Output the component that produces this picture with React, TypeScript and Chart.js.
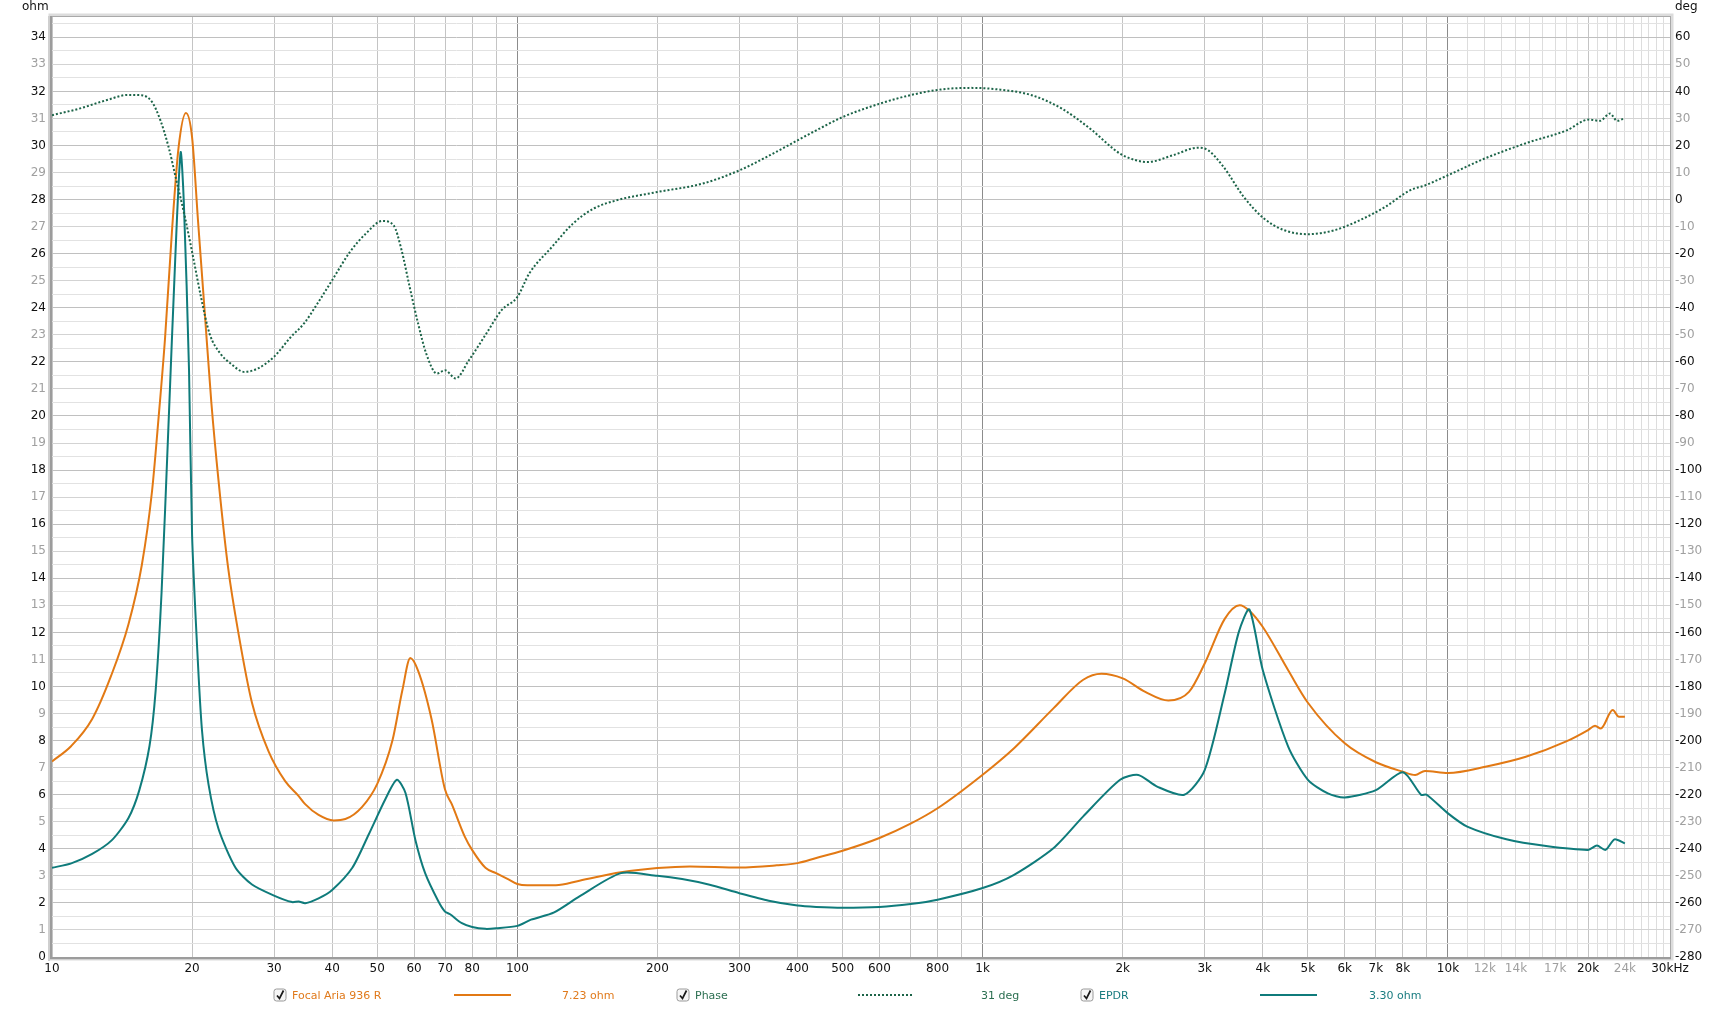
import React, { useEffect, useRef } from 'react';
import { Chart, registerables } from 'chart.js';

Chart.register(...registerables);

// ---------------- data ----------------
const impFreq = [10, 11, 12.2, 13.4, 14.6, 15.6, 16.4, 16.9, 17.5, 18.1, 18.7, 19.4, 20.0, 20.6, 21.3, 22.0, 22.8, 23.9, 25.2, 26.9, 29.2, 31.7, 33.9, 35.0, 37.4, 40.3, 42.7, 46.4, 50.0, 53.9, 56.6, 58.9, 61.3, 65.4, 69.9, 72.3, 77.1, 80, 85.4, 90, 95, 100, 105, 121, 136, 167, 200, 235, 300, 361, 400, 439, 500, 600, 700, 800, 1000, 1168, 1421, 1645, 1800, 2000, 2236, 2506, 2776, 3000, 3313, 3569, 3742, 4000, 4535, 5000, 6000, 7000, 8000, 8500, 8925, 10000, 12100, 14700, 17900, 20000, 20700, 21300, 22600, 23300, 24000];
const impOhm = [7.23, 7.8, 8.8, 10.4, 12.3, 14.5, 17.2, 19.7, 22.9, 26.8, 29.9, 31.2, 30.3, 27.2, 23.8, 20.5, 17.6, 14.4, 11.9, 9.4, 7.6, 6.5, 5.95, 5.65, 5.25, 5.05, 5.1, 5.55, 6.4, 8.0, 9.85, 11.05, 10.55, 8.8, 6.2, 5.65, 4.45, 3.95, 3.3, 3.1, 2.9, 2.7, 2.65, 2.65, 2.82, 3.13, 3.29, 3.35, 3.31, 3.39, 3.47, 3.66, 3.93, 4.4, 4.93, 5.5, 6.74, 7.72, 9.2, 10.25, 10.47, 10.3, 9.8, 9.48, 9.8, 10.85, 12.5, 13.0, 12.8, 12.2, 10.6, 9.4, 7.9, 7.2, 6.85, 6.73, 6.88, 6.8, 7.04, 7.4, 7.96, 8.39, 8.55, 8.45, 9.13, 8.88, 8.88];

const epdrFreq = [10, 11, 12.2, 13.45, 14.6, 15.4, 16.2, 16.7, 17.2, 17.8, 18.4, 18.9, 19.2, 19.7, 20.0, 20.5, 21.0, 21.7, 22.8, 24.8, 26.9, 30.0, 32.8, 33.9, 35.0, 37.4, 40.0, 44.2, 47.9, 52.1, 55.1, 57.5, 60.4, 63.4, 67.6, 69.9, 71.7, 76.0, 80.0, 85.4, 90.0, 100, 107, 120, 136, 167, 200, 226, 259, 300, 347, 400, 439, 500, 600, 700, 800, 1000, 1168, 1421, 1645, 1974, 2160, 2371, 2712, 3000, 3313, 3550, 3742, 4000, 4535, 5000, 5520, 6000, 7000, 8000, 8750, 9000, 10000, 11000, 13350, 16250, 20000, 20900, 21800, 22800, 24000];
const epdrOhm = [3.3, 3.46, 3.81, 4.32, 5.14, 6.16, 7.8, 9.85, 13.5, 19.7, 25.8, 29.75, 27.9, 21.7, 15.6, 11.5, 8.4, 6.37, 4.73, 3.3, 2.68, 2.27, 2.03, 2.05, 1.99, 2.17, 2.48, 3.3, 4.52, 5.85, 6.55, 6.06, 4.32, 3.09, 2.07, 1.68, 1.58, 1.25, 1.11, 1.04, 1.06, 1.15, 1.38, 1.65, 2.24, 3.1, 3.0, 2.88, 2.67, 2.36, 2.08, 1.9, 1.85, 1.82, 1.85, 1.96, 2.12, 2.55, 3.04, 4.03, 5.2, 6.55, 6.73, 6.3, 6.0, 6.91, 9.75, 12.0, 12.85, 10.6, 7.78, 6.55, 6.05, 5.9, 6.17, 6.83, 6.0, 6.0, 5.31, 4.82, 4.35, 4.1, 3.96, 4.12, 3.96, 4.35, 4.2];

const phaseFreq = [10, 11.43, 13.07, 14.56, 15.56, 16.4, 17.1, 17.8, 18.5, 19.3, 20.1, 20.9, 21.8, 23.0, 24.2, 25.9, 27.7, 30.0, 32.6, 34.8, 37.2, 40.0, 43.7, 47.3, 51.3, 54.2, 56.4, 58.7, 61.2, 63.7, 67.2, 69.9, 73.7, 78.7, 85.8, 92.5, 100, 106.1, 118.7, 131.8, 146, 164, 200, 250, 300, 349, 400, 439, 500, 602, 699, 812, 943, 1069, 1274, 1480, 1719, 1905, 2000, 2264, 2565, 2905, 3054, 3293, 3640, 4024, 4444, 5000, 5706, 6468, 7330, 8305, 8940, 10000, 12000, 14800, 18000, 20100, 21200, 22300, 23100, 23900];
const phaseDeg = [31.2, 33.6, 36.7, 38.7, 38.6, 36.1, 29.3, 19.5, 7.2, -6.4, -21.2, -36, -49.5, -56.9, -60.6, -63.7, -62.4, -58.1, -50.8, -45.8, -38.4, -29.8, -19.3, -12.5, -7.9, -9.5, -18.7, -32.3, -45.8, -56.9, -64.3, -63.1, -66.1, -59.4, -49.5, -40.9, -36, -27.3, -17.5, -8.8, -3.3, -0.2, 2.8, 5.9, 10.8, 16.4, 21.9, 25.6, 30.5, 35.5, 38.6, 40.7, 41.3, 40.8, 38.6, 33.6, 25.6, 18.9, 16.4, 13.9, 16.4, 19.2, 18.2, 12.1, 1.0, -7, -11.3, -12.8, -11.3, -7.6, -2.7, 3.5, 5.3, 9.0, 15.2, 21, 25.6, 29.6, 29.1, 31.8, 29.1, 30];

// ---------------- axes ----------------
const xGridValues = [10, 20, 30, 40, 50, 60, 70, 80, 90, 100, 200, 300, 400, 500, 600, 700, 800, 900, 1000, 2000, 3000, 4000, 5000, 6000, 7000, 8000, 9000, 10000, 11000, 12000, 13000, 14000, 15000, 16000, 17000, 18000, 19000, 20000, 21000, 22000, 23000, 24000, 25000, 26000, 27000, 28000, 29000, 30000];
const xTickLabels: Record<number, string> = {
  10: '10', 20: '20', 30: '30', 40: '40', 50: '50', 60: '60', 70: '70', 80: '80', 100: '100',
  200: '200', 300: '300', 400: '400', 500: '500', 600: '600', 800: '800', 1000: '1k',
  2000: '2k', 3000: '3k', 4000: '4k', 5000: '5k', 6000: '6k', 7000: '7k', 8000: '8k', 10000: '10k',
  12000: '12k', 14000: '14k', 17000: '17k', 20000: '20k', 24000: '24k', 30000: '30kHz',
};
const xGrayLabels = [12000, 14000, 17000, 24000];
const xDarkLines = [100, 1000, 10000];

const ohmMin = 0;
const ohmMax = 34.75;
const ohmTicks = Array.from({ length: 70 }, (_, i) => i * 0.5);
const degMin = -280;
const degMax = 67.5;
const degTicks = Array.from({ length: 35 }, (_, i) => -280 + i * 10);

const legendItems = [
  { box: 274, name: 'Focal Aria 936 R', nameX: 292, lineX: [454, 511], dash: [] as number[], value: '7.23 ohm', valueX: 562, color: '#e27914', textColor: '#e07a1c' },
  { box: 677, name: 'Phase', nameX: 695, lineX: [858, 913], dash: [2, 2], value: '31 deg', valueX: 981, color: '#1c6448', textColor: '#2a6e50' },
  { box: 1081, name: 'EPDR', nameX: 1099, lineX: [1260, 1317], dash: [] as number[], value: '3.30 ohm', valueX: 1369, color: '#0f7b7b', textColor: '#1a7c80' },
];

const FONT = 'DejaVu Sans';
const C_IMP = '#e27914';
const C_EPDR = '#0f7b7b';
const C_PHASE = '#1c6448';

const toPts = (xs: number[], ys: number[]) => xs.map((x, i) => ({ x, y: ys[i] }));

const framePlugin = {
  id: 'frame',
  afterDraw(chart: any) {
    const { ctx, chartArea } = chart;
    const { left, right, top, bottom } = chartArea;
    ctx.save();
    // soft outer band
    ctx.strokeStyle = '#dcdcdc';
    ctx.lineWidth = 3;
    ctx.strokeRect(left - 2, top - 2, right - left + 4, bottom - top + 4);
    ctx.strokeStyle = '#a9a9a9';
    ctx.lineWidth = 1;
    ctx.strokeRect(left - 0.5, top - 0.5, right - left + 1, bottom - top + 1);
    // darker left & bottom edge
    ctx.fillStyle = '#9c9c9c';
    ctx.fillRect(left - 2, top - 1, 2, bottom - top + 3);
    ctx.fillRect(left - 2, bottom, right - left + 3, 2);
    ctx.fillStyle = '#cfcfcf';
    ctx.fillRect(left - 4, top - 1, 2, bottom - top + 5);
    ctx.fillRect(left - 2, bottom + 2, right - left + 3, 1);

    // axis units
    ctx.font = `12px "${FONT}"`;
    ctx.fillStyle = '#111';
    ctx.textBaseline = 'middle';
    ctx.textAlign = 'left';
    ctx.fillText('ohm', 22, 7);
    ctx.fillText('deg', 1675, 7);

    // legend
    const ly = 995;
    ctx.font = `11px "${FONT}"`;
    for (const it of legendItems) {
      // checkbox
      const bx = it.box, by = ly - 6, bs = 12;
      ctx.beginPath();
      const r = 2.5;
      ctx.moveTo(bx + r, by);
      ctx.lineTo(bx + bs - r, by);
      ctx.quadraticCurveTo(bx + bs, by, bx + bs, by + r);
      ctx.lineTo(bx + bs, by + bs - r);
      ctx.quadraticCurveTo(bx + bs, by + bs, bx + bs - r, by + bs);
      ctx.lineTo(bx + r, by + bs);
      ctx.quadraticCurveTo(bx, by + bs, bx, by + bs - r);
      ctx.lineTo(bx, by + r);
      ctx.quadraticCurveTo(bx, by, bx + r, by);
      ctx.fillStyle = '#f6f6f6';
      ctx.fill();
      ctx.strokeStyle = '#9a9a9a';
      ctx.lineWidth = 1;
      ctx.stroke();
      ctx.beginPath();
      ctx.moveTo(bx + 3, by + 6.5);
      ctx.lineTo(bx + 5.5, by + 9.5);
      ctx.lineTo(bx + 9.5, by + 1.5);
      ctx.strokeStyle = '#1a1a1a';
      ctx.lineWidth = 1.7;
      ctx.stroke();
      // name
      ctx.fillStyle = it.textColor;
      ctx.textAlign = 'left';
      ctx.fillText(it.name, it.nameX, ly + 1);
      // line sample
      ctx.beginPath();
      ctx.setLineDash(it.dash);
      ctx.moveTo(it.lineX[0], ly);
      ctx.lineTo(it.lineX[1], ly);
      ctx.strokeStyle = it.color;
      ctx.lineWidth = 2;
      ctx.stroke();
      ctx.setLineDash([]);
      // value
      ctx.fillStyle = it.textColor;
      ctx.fillText(it.value, it.valueX, ly + 1);
    }
    ctx.restore();
  },
};

export default function App() {
  const ref = useRef<HTMLCanvasElement | null>(null);

  useEffect(() => {
    document.body.style.margin = '0';
    document.body.style.background = '#ffffff';
    const canvas = ref.current;
    if (!canvas) return;
    Chart.defaults.font.family = FONT;

    const chart = new Chart(canvas, {
      type: 'line',
      data: {
        datasets: [
          {
            label: 'Focal Aria 936 R',
            data: toPts(impFreq, impOhm),
            borderColor: C_IMP,
            borderWidth: 2,
            pointRadius: 0,
            cubicInterpolationMode: 'monotone',
            yAxisID: 'y',
            order: 3,
          },
          {
            label: 'EPDR',
            data: toPts(epdrFreq, epdrOhm),
            borderColor: C_EPDR,
            borderWidth: 2,
            pointRadius: 0,
            tension: 0.25,
            yAxisID: 'y',
            order: 2,
          },
          {
            label: 'Phase',
            data: toPts(phaseFreq, phaseDeg),
            borderColor: C_PHASE,
            borderWidth: 2,
            borderDash: [2, 2],
            borderCapStyle: 'butt',
            pointRadius: 0,
            cubicInterpolationMode: 'monotone',
            yAxisID: 'y2',
            order: 1,
          },
        ],
      },
      options: {
        responsive: false,
        animation: false,
        events: [],
        layout: { padding: { top: 17, left: 0, right: 0, bottom: 0 } },
        plugins: { legend: { display: false }, tooltip: { enabled: false }, title: { display: false } },
        scales: {
          x: {
            type: 'logarithmic',
            min: 10,
            max: 30000,
            afterBuildTicks: (s: any) => {
              s.ticks = xGridValues.map((v) => ({ value: v }));
            },
            afterFit: (s: any) => {
              s.height = 54;
            },
            border: { display: false },
            grid: {
              drawTicks: false,
              lineWidth: 1,
              color: (c: any) => {
                const v = Math.round(c.tick?.value ?? 0);
                if (xDarkLines.includes(v)) return '#8c8c8c';
                if (v > 10000 && v !== 20000 && v !== 30000) return '#dddddd';
                return '#c4c4c4';
              },
            },
            ticks: {
              autoSkip: false,
              maxRotation: 0,
              minRotation: 0,
              padding: 5,
              font: { family: FONT, size: 12 },
              color: (c: any) => (xGrayLabels.includes(Math.round(c.tick?.value ?? 0)) ? '#a0a0a0' : '#111111'),
              callback: (v: any) => xTickLabels[Math.round(Number(v))] ?? '',
            },
          },
          y: {
            type: 'linear',
            position: 'left',
            min: ohmMin,
            max: ohmMax,
            afterBuildTicks: (s: any) => {
              s.ticks = ohmTicks.map((v) => ({ value: v }));
            },
            afterFit: (s: any) => {
              s.width = 52;
            },
            border: { display: false },
            grid: {
              drawTicks: false,
              lineWidth: 1,
              color: (c: any) => {
                const v = c.tick?.value ?? 0;
                if (Number.isInteger(v)) return v % 2 === 0 ? '#c0c0c0' : '#d3d3d3';
                return '#e2e2e2';
              },
            },
            ticks: {
              autoSkip: false,
              padding: 6,
              font: { family: FONT, size: 12 },
              color: (c: any) => {
                const v = c.tick?.value ?? 0;
                return Math.round(v) % 2 === 0 ? '#111111' : '#a0a0a0';
              },
              callback: (v: any) => (Number.isInteger(Number(v)) ? String(v) : ''),
            },
          },
          y2: {
            type: 'linear',
            position: 'right',
            min: degMin,
            max: degMax,
            afterBuildTicks: (s: any) => {
              s.ticks = degTicks.map((v) => ({ value: v }));
            },
            afterFit: (s: any) => {
              s.width = 66;
            },
            border: { display: false },
            grid: { display: false, drawTicks: false },
            ticks: {
              autoSkip: false,
              padding: 5,
              font: { family: FONT, size: 12 },
              color: (c: any) => {
                const v = Math.round((c.tick?.value ?? 0) / 10);
                return Math.abs(v) % 2 === 0 ? '#111111' : '#a0a0a0';
              },
              callback: (v: any) => String(v),
            },
          },
        },
      },
      plugins: [framePlugin],
    } as any);

    return () => chart.destroy();
  }, []);

  return (
    <div style={{ width: 1736, height: 1011, background: '#ffffff' }}>
      <canvas ref={ref} width={1736} height={1011} style={{ display: 'block', width: 1736, height: 1011 }} />
    </div>
  );
}
